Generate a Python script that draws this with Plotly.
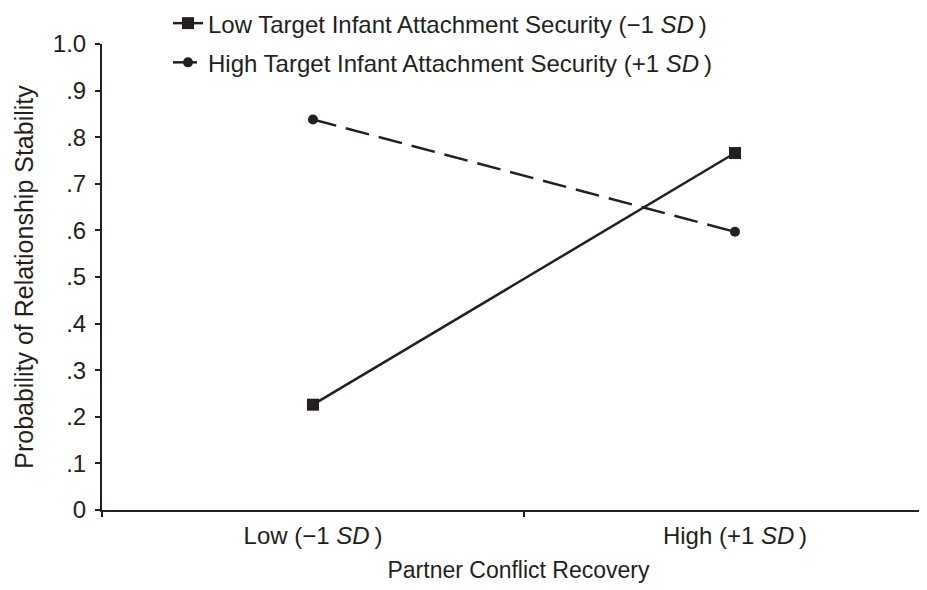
import plotly.graph_objects as go

categories = ["Low (\u22121 <i>SD</i>\u2009)", "High (+1 <i>SD</i>\u2009)"]
low_security = [0.226, 0.766]
high_security = [0.838, 0.597]
series_names = [
    "Low Target Infant Attachment Security (\u22121 <i>SD</i>\u2009)",
    "High Target Infant Attachment Security (+1 <i>SD</i>\u2009)",
]
y_tick_vals = [0, 0.1, 0.2, 0.3, 0.4, 0.5, 0.6, 0.7, 0.8, 0.9, 1.0]
y_tick_text = ["0", ".1", ".2", ".3", ".4", ".5", ".6", ".7", ".8", ".9", "1.0"]
x_title = "Partner Conflict Recovery"
y_title = "Probability of Relationship Stability"

INK = "#231f20"
FONT = "Liberation Sans, Arial, sans-serif"
FS = 24

fig = go.Figure()
fig.add_trace(go.Scatter(
    x=categories, y=low_security, name=series_names[0], mode="lines+markers",
    line=dict(color=INK, width=2.5),
    marker=dict(symbol="square", size=12, color=INK),
    legendgroup="a",
))
fig.add_trace(go.Scatter(
    x=categories, y=high_security, name=series_names[1], mode="lines+markers",
    line=dict(color=INK, width=2.5, dash="24px,10px"),
    marker=dict(symbol="circle", size=10, color=INK),
    legendgroup="b",
))

fig.update_layout(
    width=927, height=590,
    margin=dict(l=94, r=0, t=36, b=87.5, autoexpand=False),
    paper_bgcolor="white", plot_bgcolor="white",
    font=dict(family=FONT, size=FS, color=INK),
    showlegend=True,
    legend=dict(
        xref="paper", yref="paper", x=(160 - 94) / 833, y=1 + 43 / 466.5,
        xanchor="left", yanchor="top",
        bgcolor="rgba(0,0,0,0)", tracegroupgap=5,
        font=dict(size=FS),
    ),
    xaxis=dict(
        type="category", range=[-0.5, 1.474], automargin=True,
        showline=True, linecolor=INK, linewidth=2,
        ticks="outside", ticklen=5, tickwidth=1.5, tickcolor=INK,
        tickson="boundaries", showgrid=False, zeroline=False,
        tickfont=dict(size=FS), ticklabelstandoff=3,
        title=dict(text=x_title, standoff=14, font=dict(size=23)),
    ),
    yaxis=dict(
        range=[0, 1], tickvals=y_tick_vals, ticktext=y_tick_text, automargin=True,
        showline=True, linecolor=INK, linewidth=2,
        ticks="outside", ticklen=5, tickwidth=1.5, tickcolor=INK,
        showgrid=False, zeroline=False,
        title=dict(text=y_title, standoff=12, font=dict(size=25)),
        tickfont=dict(size=FS), ticklabelstandoff=4,
    ),
)

fig.write_html("out.html")
